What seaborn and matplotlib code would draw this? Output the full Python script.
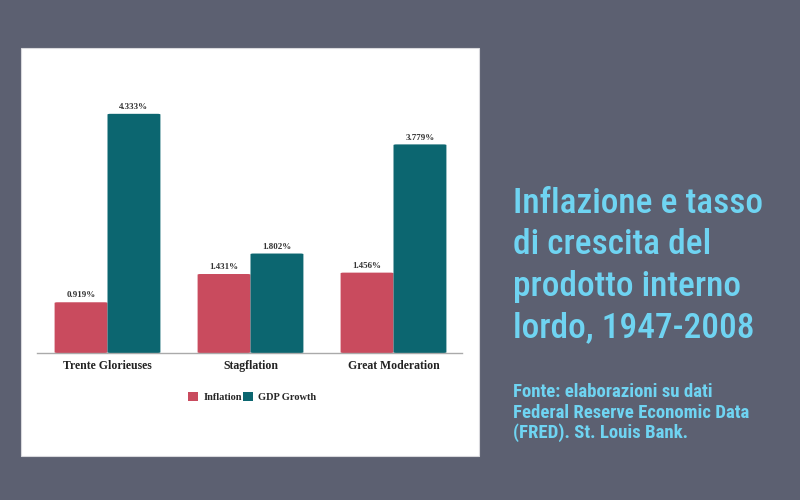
import matplotlib
matplotlib.use("Agg")
import matplotlib.pyplot as plt
import seaborn as sns
import pandas as pd
from matplotlib.patches import Rectangle, FancyBboxPatch, Patch
from matplotlib import font_manager

periods = ["Trente Glorieuses", "Stagflation", "Great Moderation"]
inflation = [0.919, 1.431, 1.456]
gdp_growth = [4.333, 1.802, 3.779]
inflation_labels = ["0.919%", "1.431%", "1.456%"]
gdp_labels = ["4.333%", "1.802%", "3.779%"]
series_names = ["Inflation", "GDP Growth"]

df = pd.DataFrame({
    "period": periods * 2,
    "value": inflation + gdp_growth,
    "series": [series_names[0]] * 3 + [series_names[1]] * 3,
})

sns.set_theme(style="white")
plt.rcParams["font.family"] = ["Liberation Serif", "DejaVu Serif"]

BG = "#5c6071"
RED = "#c94b5e"
TEAL = "#0c6670"

fig = plt.figure(figsize=(8, 5), dpi=100, facecolor=BG)
# white card
card = Rectangle((21 / 800, 1 - 456 / 500), 458 / 800, 408 / 500,
                 transform=fig.transFigure, facecolor="white",
                 edgecolor="#d8d8dc", lw=0.8, zorder=-5)
fig.patches.append(card)

ax = fig.add_axes([37 / 800, 1 - 353 / 500, 425 / 800, 253 / 500])
ax.set_zorder(2)
ax.set_facecolor("none")
sns.barplot(data=df, x="period", y="value", hue="series",
            palette=[RED, TEAL], width=0.74, ax=ax, saturation=1,
            edgecolor="none", legend=False)
ax.set_xlim(-0.493, 2.479)
ax.set_ylim(0, 253 / 55.2)

for cont, labs in zip(ax.containers, [inflation_labels, gdp_labels]):
    ax.bar_label(cont, labels=labs, padding=2, fontsize=6.5, fontweight="bold",
                 color="#333333")

# round bar corners slightly
for p in list(ax.patches):
    x, y = p.get_x(), p.get_y()
    w, h = p.get_width(), p.get_height()
    fc = p.get_facecolor()
    p.set_visible(False)
    fb = FancyBboxPatch((x, y), w, h, boxstyle="round,pad=0,rounding_size=0.02",
                        mutation_aspect=0.6, facecolor=fc, edgecolor="none", zorder=2)
    ax.add_patch(fb)

ax.set_xlabel("")
ax.set_ylabel("")
ax.set_yticks([])
ax.tick_params(axis="x", length=0, pad=5)
for lab in ax.get_xticklabels():
    lab.set_fontweight("bold")
    lab.set_fontsize(8.5)
    lab.set_color("#222222")
for s in ["top", "right", "left"]:
    ax.spines[s].set_visible(False)
ax.spines["bottom"].set_color("#aaaaaa")
ax.spines["bottom"].set_linewidth(1)

# legend
handles = [Patch(facecolor=RED, edgecolor="none"), Patch(facecolor=TEAL, edgecolor="none")]
fig.legend(handles, series_names, loc="center", bbox_to_anchor=(252 / 800, 1 - 397 / 500),
           ncol=2, frameon=False, handlelength=1.0, handleheight=1.0,
           handletextpad=0.5, columnspacing=0.1,
           prop={"family": "Liberation Serif", "weight": "bold", "size": 7.5})

# title and source
names = {f.name for f in font_manager.fontManager.ttflist}
title_font = [n for n in ["Liberation Sans Narrow", "Roboto Condensed", "Open Sans Condensed"] if n in names] + ["Roboto", "DejaVu Sans"]
CYAN = "#6fd4f2"
for i, line in enumerate(["Inflazione e tasso", "di crescita del",
                          "prodotto interno", "lordo, 1947-2008"]):
    fig.text(513 / 800, 1 - (213 + 41.5 * i) / 500, line,
             color=CYAN, fontsize=25.5, family=title_font, va="baseline", ha="left",
             fontstretch="condensed", fontweight="medium")
for i, line in enumerate(["Fonte: elaborazioni su dati",
                          "Federal Reserve Economic Data",
                          "(FRED). St. Louis Bank."]):
    fig.text(513 / 800, 1 - (397 + 20.5 * i) / 500, line,
             color=CYAN, fontsize=13.5, family=title_font, fontweight="bold",
             va="baseline", ha="left", fontstretch="condensed")

fig.savefig("out.png", dpi=100, facecolor=BG)
